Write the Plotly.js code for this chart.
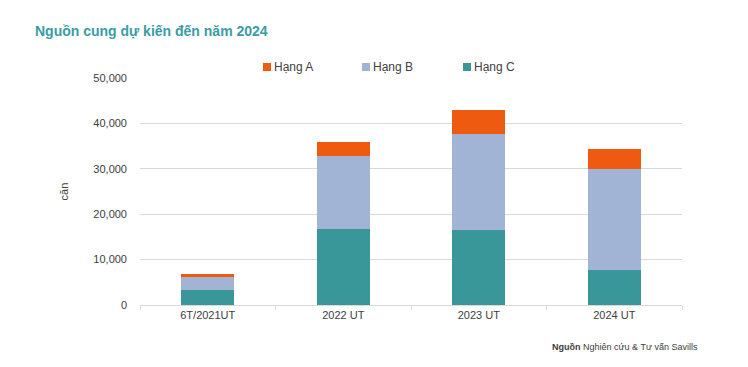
<!DOCTYPE html>
<html><head><meta charset="utf-8">
<script src="https://cdn.plot.ly/plotly-3.0.1.min.js"></script>
<style>body{margin:0;background:#fff}#c{width:748px;height:367px}</style>
</head><body><div id="c"></div>
<script>
const categories = ["6T/2021UT", "2022 UT", "2023 UT", "2024 UT"];
const hangC = [3300, 16700, 16500, 7800];
const hangB = [2900, 16200, 21200, 22200];
const hangA = [700, 3000, 5200, 4400];
const seriesNames = ["Hạng C", "Hạng B", "Hạng A"];
const yTicks = [0, 10000, 20000, 30000, 40000, 50000];

const colors = ["#3A9799", "#A1B4D6", "#EE5A10"];
const data = [hangC, hangB, hangA].map((v, i) => ({
  type: "bar", x: categories, y: v, name: seriesNames[i],
  marker: {color: colors[i]}, showlegend: false
}));

// custom legend (paper coords): plot area x 140..682, y 78..305
const W = 542, H = 227;
const px = x => (x - 140) / W, py = y => (305 - y) / H;
const legendItems = [[2, 263], [1, 362], [0, 463]];
const shapes = [], annotations = [];
legendItems.forEach(([i, x0]) => {
  shapes.push({type: "rect", xref: "paper", yref: "paper", x0: px(x0), x1: px(x0 + 8), y0: py(71), y1: py(63),
    fillcolor: colors[i], line: {width: 0}});
  annotations.push({xref: "paper", yref: "paper", x: px(x0 + 9), y: py(67), xanchor: "left", yanchor: "middle",
    showarrow: false, text: seriesNames[i], font: {size: 12, color: "#404040"}});
});
annotations.push({xref: "paper", yref: "paper", x: px(700), y: py(347), xanchor: "right", yanchor: "middle", showarrow: false,
  text: "<b>Nguồn</b> Nghiên cứu &amp; Tư vấn Savills", font: {size: 9, color: "#404040"}});

const layout = {
  width: 748, height: 367,
  margin: {l: 140, r: 66, t: 78, b: 62},
  barmode: "stack", bargap: 0.61,
  paper_bgcolor: "#fff", plot_bgcolor: "#fff",
  font: {family: "Liberation Sans, Arial, sans-serif", size: 11, color: "#595959"},
  title: {text: "<b>Nguồn cung dự kiến đến năm 2024</b>", x: 35/748, xanchor: "left", y: 1 - 31/367, yanchor: "middle",
    font: {size: 14, color: "#3A9CA6", family: "Liberation Sans, Arial, sans-serif"}},
  showlegend: false,
  xaxis: {type: "category", tickson: "boundaries", ticks: "outside", ticklen: 4, tickcolor: "#d9d9d9",
    showline: true, linecolor: "#d9d9d9", linewidth: 1, tickfont: {size: 11, color: "#404040"}},
  yaxis: {range: [0, 50000], tickvals: yTicks, tickformat: ",", showgrid: true, gridcolor: "#d9d9d9",
    zeroline: false, ticks: "", ticklabelstandoff: 12,
    title: {text: "căn", standoff: 22, font: {size: 11, color: "#404040"}}, tickfont: {size: 11, color: "#404040"}},
  shapes: shapes,
  annotations: annotations
};
Plotly.newPlot("c", data, layout, {displayModeBar: false, staticPlot: true});
</script></body></html>
